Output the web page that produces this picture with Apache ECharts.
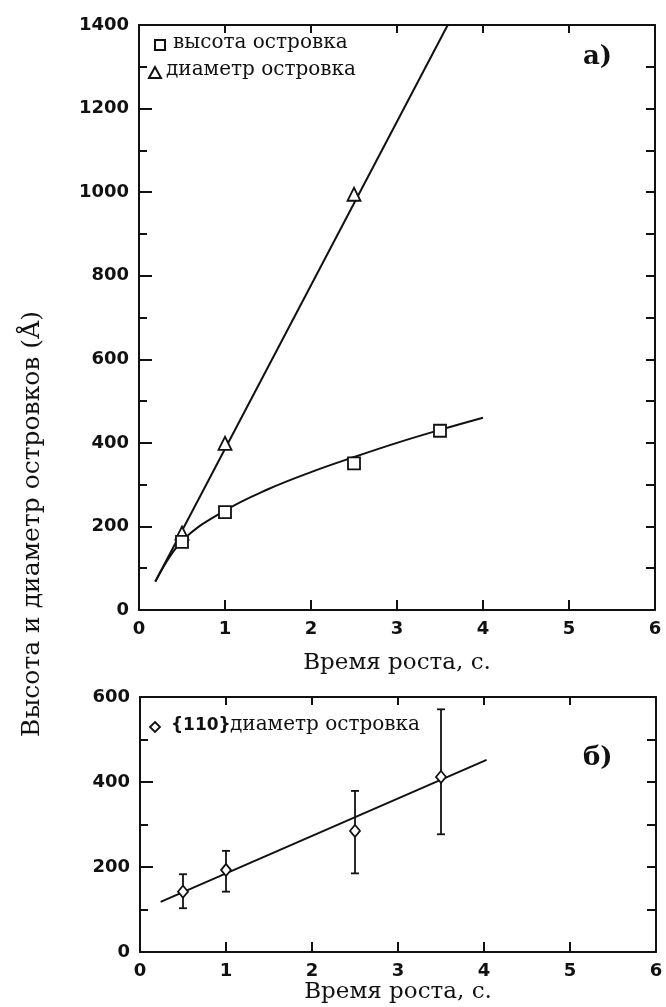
<!DOCTYPE html>
<html lang="ru">
<head>
  <meta charset="UTF-8">
  <title>Высота и диаметр островков</title>
  <script src="https://cdn.jsdelivr.net/npm/echarts@6/dist/echarts.min.js"></script>
  <style>
    html, body { margin: 0; padding: 0; background: #fff; }
    #chart { width: 666px; height: 1007px; }
  </style>
</head>
<body>
  <div id="chart"></div>
  <script>
    // а) высота и диаметр островков
    const heightX = [0.5, 1, 2.5, 3.5];
    const heightY = [163, 234, 351, 429];
    const diamX = [0.5, 1, 2.5];
    const diamY = [184, 399, 995];
    // сглаженная кривая высоты и прямая диаметра (как нарисованы)
    const heightFitX = [0.19, 0.5, 1, 1.5, 2, 2.5, 3, 3.5, 4];
    const heightFitY = [68, 165, 238, 289, 330, 366, 400, 431, 460];
    const diamFitX = [0.19, 3.59];
    const diamFitY = [68, 1400];

    // б) {110} диаметр островка с погрешностью
    const timeB = [0.5, 1, 2.5, 3.5];
    const diamB = [142, 193, 285, 412];
    const errLow = [103, 142, 185, 277];
    const errHigh = [183, 238, 379, 571];
    const fitBX = [0.24, 4.03];
    const fitBY = [118, 452];

    const xTitle = 'Время роста, с.';
    const yTitle = 'Высота и диаметр островков (Å)';

    const zip = (a, b) => a.map((v, i) => [v, b[i]]);
    const black = '#111';
    const serif = '"DejaVu Serif", "Liberation Serif", serif';
    const sans = '"DejaVu Sans", sans-serif';
    const plain = v => String(v);

    function xAxisPair(grid, nameGap) {
      return [
        { gridIndex: grid, type: 'value', min: 0, max: 6, interval: 1, position: 'bottom',
          name: xTitle, nameLocation: 'middle', nameGap: nameGap,
          nameTextStyle: { fontFamily: serif, fontSize: 23, color: black },
          axisLine: { onZero: false, lineStyle: { color: black, width: 2 } },
          axisTick: { inside: true, length: 10, lineStyle: { color: black, width: 2 } },
          axisLabel: { fontFamily: sans, fontWeight: 'bold', fontSize: 18, color: black, margin: 10, formatter: plain },
          splitLine: { show: false } },
        { gridIndex: grid, type: 'value', min: 0, max: 6, interval: 1, position: 'top',
          axisLine: { onZero: false, lineStyle: { color: black, width: 2 } },
          axisTick: { inside: true, length: 8, lineStyle: { color: black, width: 2 } },
          axisLabel: { show: false }, splitLine: { show: false } }
      ];
    }
    function yAxisPair(grid, max) {
      return [
        { gridIndex: grid, type: 'value', min: 0, max: max, interval: 200, position: 'left',
          axisLine: { show: true, onZero: false, lineStyle: { color: black, width: 2 } },
          axisTick: { show: true, inside: true, length: 13, lineStyle: { color: black, width: 2 } },
          minorTick: { show: true, splitNumber: 2, length: 8, lineStyle: { color: black, width: 2 } },
          axisLabel: { fontFamily: sans, fontWeight: 'bold', fontSize: 18, color: black, margin: 10, formatter: plain },
          splitLine: { show: false } },
        { gridIndex: grid, type: 'value', min: 0, max: max, interval: 100, position: 'right',
          axisLine: { show: true, onZero: false, lineStyle: { color: black, width: 2 } },
          axisTick: { show: true, inside: true, length: 9, lineStyle: { color: black, width: 2 } },
          axisLabel: { show: false }, splitLine: { show: false } }
      ];
    }

    const openMarker = { color: '#fff', borderColor: black, borderWidth: 1.8, opacity: 1 };

    const chart = echarts.init(document.getElementById('chart'), null, { renderer: 'canvas' });
    chart.setOption({
      animation: false,
      backgroundColor: '#fff',
      grid: [
        { left: 139, right: 11, top: 25, height: 585 },
        { left: 140, right: 10, top: 697, height: 255 }
      ],
      xAxis: xAxisPair(0, 42).concat(xAxisPair(1, 26)),
      yAxis: yAxisPair(0, 1400).concat(yAxisPair(1, 600)),
      series: [
        { type: 'line', xAxisIndex: 0, yAxisIndex: 0, data: zip(diamFitX, diamFitY),
          showSymbol: false, lineStyle: { color: black, width: 2 } },
        { type: 'line', xAxisIndex: 0, yAxisIndex: 0, data: zip(heightFitX, heightFitY),
          smooth: 0.4, showSymbol: false, lineStyle: { color: black, width: 2 } },
        { type: 'scatter', xAxisIndex: 0, yAxisIndex: 0, data: zip(diamX, diamY),
          symbol: 'triangle', symbolSize: 13, itemStyle: openMarker, z: 5 },
        { type: 'scatter', xAxisIndex: 0, yAxisIndex: 0, data: zip(heightX, heightY),
          symbol: 'rect', symbolSize: 12, itemStyle: openMarker, z: 5 },

        { type: 'line', xAxisIndex: 2, yAxisIndex: 2, data: zip(fitBX, fitBY),
          showSymbol: false, lineStyle: { color: black, width: 2 } },
        { type: 'custom', xAxisIndex: 2, yAxisIndex: 2,
          data: timeB.map((t, i) => [t, errLow[i], errHigh[i]]),
          renderItem: function (params, api) {
            const lo = api.coord([api.value(0), api.value(1)]);
            const hi = api.coord([api.value(0), api.value(2)]);
            const w = 4;
            const st = { stroke: black, lineWidth: 1.8 };
            return { type: 'group', children: [
              { type: 'line', shape: { x1: lo[0], y1: lo[1], x2: hi[0], y2: hi[1] }, style: st },
              { type: 'line', shape: { x1: lo[0] - w, y1: lo[1], x2: lo[0] + w, y2: lo[1] }, style: st },
              { type: 'line', shape: { x1: hi[0] - w, y1: hi[1], x2: hi[0] + w, y2: hi[1] }, style: st }
            ] };
          }, z: 3 },
        { type: 'scatter', xAxisIndex: 2, yAxisIndex: 2, data: zip(timeB, diamB),
          symbol: 'diamond', symbolSize: [10, 12], itemStyle: openMarker, z: 5 }
      ],
      graphic: [
        // легенда а)
        { type: 'rect', shape: { x: 155, y: 40, width: 10, height: 10 },
          style: { fill: '#fff', stroke: black, lineWidth: 2 } },
        { type: 'text', left: 173, top: 33, style: { text: 'высота островка', font: '20px ' + serif, fill: black } },
        { type: 'polygon', shape: { points: [[155, 67], [149, 78], [161, 78]] },
          style: { fill: '#fff', stroke: black, lineWidth: 2 } },
        { type: 'text', left: 166, top: 60, style: { text: 'диаметр островка', font: '20px ' + serif, fill: black } },
        { type: 'text', left: 583, top: 44, style: { text: 'а)', font: 'bold 26px ' + serif, fill: black } },
        // легенда б)
        { type: 'polygon', shape: { points: [[155, 722], [160, 727], [155, 732], [150, 727]] },
          style: { fill: '#fff', stroke: black, lineWidth: 1.8 } },
        { type: 'text', left: 171, top: 717, style: { text: '{110}', font: 'bold 17px ' + sans, fill: black } },
        { type: 'text', left: 230, top: 715, style: { text: 'диаметр островка', font: '20px ' + serif, fill: black } },
        { type: 'text', left: 583, top: 745, style: { text: 'б)', font: 'bold 26px ' + serif, fill: black } },
        // общая подпись оси Y
        { type: 'text', x: 32, y: 524, rotation: Math.PI / 2,
          style: { text: yTitle, font: '25px ' + serif, fill: black, align: 'center', verticalAlign: 'middle' } }
      ]
    });
  </script>
</body>
</html>
